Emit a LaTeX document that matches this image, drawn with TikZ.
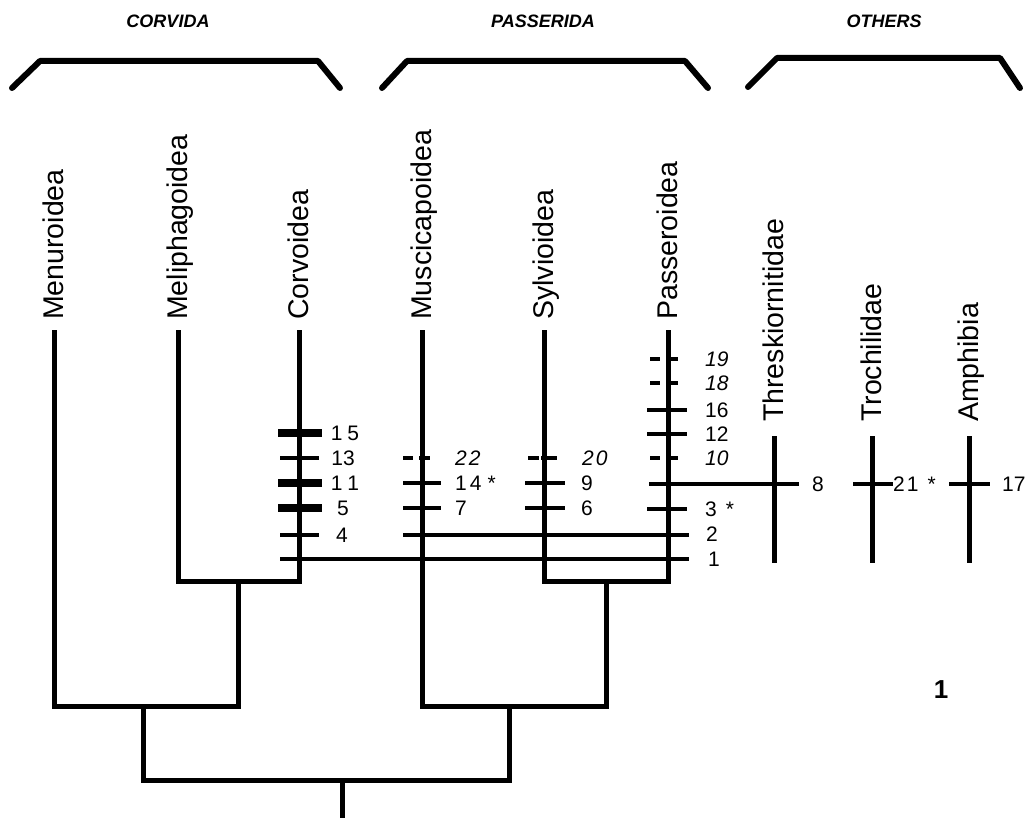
\documentclass[tikz,border=0pt]{standalone}
\usepackage{fontspec}
\setmainfont{Liberation Sans}
\begin{document}
\begin{tikzpicture}[x=1pt,y=-1pt,
  lin/.style={line width=5pt},
  thinln/.style={line width=3.5pt},
  bartick/.style={line width=8pt},
  brk/.style={line width=6pt, line join=round, line cap=round},
  taxon/.style={rotate=90, anchor=base west, inner sep=0, font=\fontsize{28.5}{28.5}\selectfont},
  num/.style={inner sep=0, font=\fontsize{21}{21}\selectfont},
  inum/.style={inner sep=0, font=\fontsize{21}{21}\selectfont\itshape},
  head/.style={inner sep=0, font=\fontsize{18}{18}\selectfont\bfseries\itshape}]
\useasboundingbox[fill=white] (0,0) rectangle (1028,818);

% headers
\node[head] (hcorvida) at (168,21) {CORVIDA};
\node[head] (hpasserida) at (543,21) {PASSERIDA};
\node[head] (hothers) at (884,21) {OTHERS};
\draw[brk] (12,88) -- (40,61) -- (318,61) -- (340,88);
\draw[brk] (382,88) -- (407,61) -- (685,61) -- (708,88);
\draw[brk] (748,87) -- (777,58) -- (1000,58) -- (1020,88);

% lineage tops
\coordinate (menu) at (54,330);
\coordinate (melip) at (178,330);
\coordinate (corv) at (299,330);
\coordinate (musc) at (422,330);
\coordinate (sylv) at (544,330);
\coordinate (passer) at (668,330);
\coordinate (n1) at (238,581);
\coordinate (n2) at (143,706);
\coordinate (n3) at (606,581);
\coordinate (n4) at (509,706);
\coordinate (root) at (342,780);
\coordinate (base) at (342,818);

% taxon labels
\node[taxon] (lmenu) at (63,320) {Menuroidea};
\node[taxon] (lmelip) at (187,320) {Meliphagoidea};
\node[taxon] (lcorv) at (308,320) {Corvoidea};
\node[taxon] (lmusc) at (431,320) {Muscicapoidea};
\node[taxon] (lsylv) at (553,320) {Sylvioidea};
\node[taxon] (lpasser) at (677,320) {Passeroidea};
\node[taxon] (lthresk) at (783,422) {Threskiornitidae};
\node[taxon] (ltroch) at (881,422) {Trochilidae};
\node[taxon] (lamph) at (978,422) {Amphibia};

% tree
\draw[lin] (melip) |- (n1) -| (corv);
\draw[lin] (menu) |- (n2) -| (n1);
\draw[lin] (sylv) |- (n3) -| (passer);
\draw[lin] (musc) |- (n4) -| (n3);
\draw[lin] (n2) |- (root) -| (n4);
\draw[lin] (root) -- (base);

% outgroups
\coordinate (thtop) at (774,436);
\coordinate (thbot) at (774,563);
\coordinate (trtop) at (872,436);
\coordinate (trbot) at (872,563);
\coordinate (amtop) at (969,436);
\coordinate (ambot) at (969,563);
\draw[lin] (thtop) -- (thbot);
\draw[lin] (trtop) -- (trbot);
\draw[lin] (amtop) -- (ambot);

% long characters
\draw[thinln] (280,559) -- (689,559);
\draw[thinln] (403,535) -- (689,535);
\draw[thinln] (649,484) -- (799,484);
\draw[thinln] (853,484) -- (893,484);
\draw[thinln] (949,484) -- (990,484);

% Corvoidea ticks
\draw[bartick] (278,433) -- (322,433);
\draw[thinln] (280,458) -- (319,458);
\draw[bartick] (278,483) -- (322,483);
\draw[bartick] (278,508) -- (322,508);
\draw[thinln] (280,535) -- (319,535);
\node[num] (c15) at (345,433) {1\hspace{5pt}5};
\node[num] (c13) at (343,458) {13};
\node[num] (c11) at (345,483) {1\hspace{5pt}1};
\node[num] (c5) at (343,508) {5};
\node[num] (c4) at (342,535) {4};

% Muscicapoidea ticks
\draw[thinln] (403,458) -- (413,458) (419,458) -- (430,458);
\draw[thinln] (403,483) -- (441,483);
\draw[thinln] (403,508) -- (441,508);
\node[inum,anchor=west] (m22) at (455,458) {2\hspace{2pt}2};
\node[num,anchor=west] (m14) at (455,483) {1\hspace{3pt}4\hspace{6pt}*};
\node[num,anchor=west] (m7) at (455,508) {7};

% Sylvioidea ticks
\draw[thinln] (528,458) -- (539,458) (541,458) -- (557,458);
\draw[thinln] (525,483) -- (565,483);
\draw[thinln] (525,508) -- (565,508);
\node[inum,anchor=west] (s20) at (582,458) {2\hspace{2pt}0};
\node[num,anchor=west] (s9) at (581,483) {9};
\node[num,anchor=west] (s6) at (581,508) {6};

% Passeroidea ticks
\draw[thinln] (650,359) -- (660,359) (666,359) -- (678,359);
\draw[thinln] (650,383) -- (660,383) (666,383) -- (678,383);
\draw[thinln] (647,410) -- (687,410);
\draw[thinln] (647,434) -- (687,434);
\draw[thinln] (650,458) -- (660,458) (666,458) -- (678,458);
\draw[thinln] (647,509) -- (687,509);
\node[inum,anchor=west] (p19) at (705,359) {19};
\node[inum,anchor=west] (p18) at (705,383) {18};
\node[num,anchor=west] (p16) at (705,410) {16};
\node[num,anchor=west] (p12) at (705,434) {12};
\node[inum,anchor=west] (p10) at (705,458) {10};
\node[num,anchor=west] (p3) at (705,509) {3\hspace{9pt}*};
\node[num,anchor=west] (p2) at (706,534) {2};
\node[num,anchor=west] (p1) at (708,559) {1};

% outgroup labels
\node[num,anchor=west] (o8) at (812,484) {8};
\node[num,anchor=west] (o21) at (893,484) {2\hspace{2pt}1\hspace{9pt}*};
\node[num,anchor=west] (o17) at (1002,484) {17};

% figure number
\node[inner sep=0, font=\fontsize{26}{26}\selectfont\bfseries] (fig) at (941,690) {1};
\end{tikzpicture}
\end{document}
